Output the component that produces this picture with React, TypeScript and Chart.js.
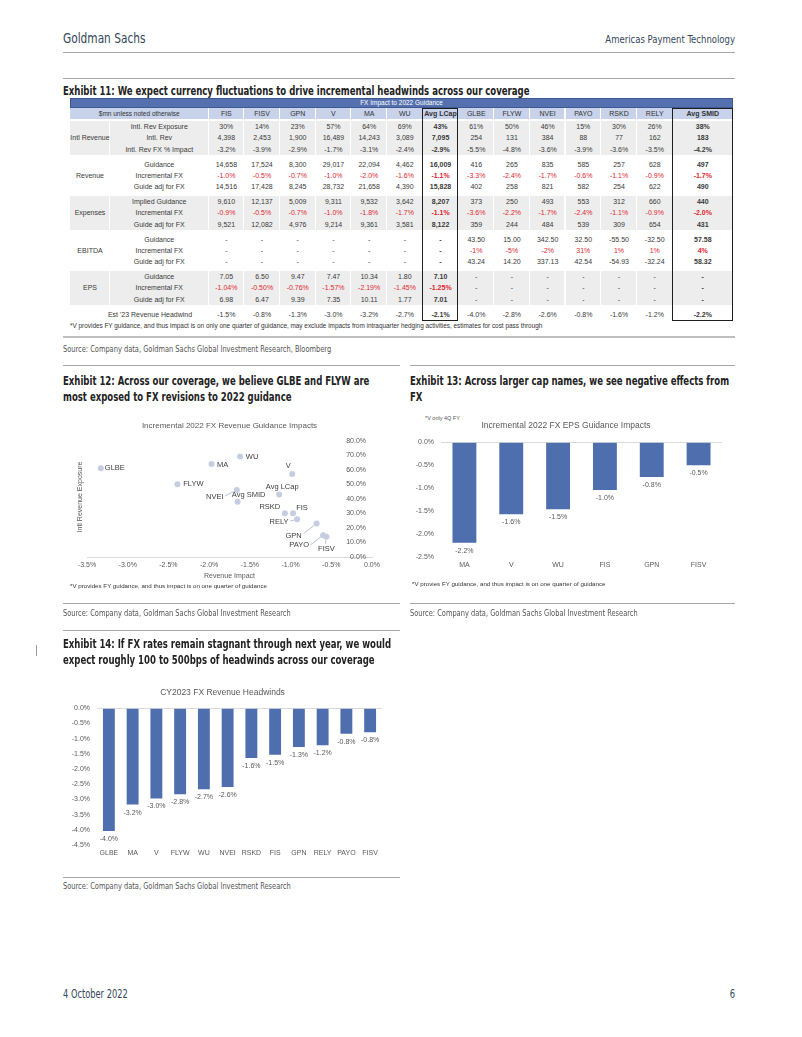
import React, { useEffect, useRef } from 'react';
import { Chart, registerables } from 'chart.js';

Chart.register(...registerables);

const NARROW = '"Liberation Sans Narrow", "DejaVu Sans Condensed", "Roboto Condensed", "Arial Narrow", sans-serif';
const ARIAL = '"Liberation Sans", Arial, Helvetica, sans-serif';

// ---------- Exhibit 11 table data ----------
const tableColumns = ['FIS', 'FISV', 'GPN', 'V', 'MA', 'WU', 'Avg LCap', 'GLBE', 'FLYW', 'NVEI', 'PAYO', 'RSKD', 'RELY', 'Avg SMID'];
const intlRevExposure = ['30%', '14%', '23%', '57%', '64%', '69%', '43%', '61%', '50%', '46%', '15%', '30%', '26%', '38%'];
const intlRev = ['4,398', '2,453', '1,900', '16,489', '14,243', '3,089', '7,095', '254', '131', '384', '88', '77', '162', '183'];
const intlRevFxImpact = ['-3.2%', '-3.9%', '-2.9%', '-1.7%', '-3.1%', '-2.4%', '-2.9%', '-5.5%', '-4.8%', '-3.6%', '-3.9%', '-3.6%', '-3.5%', '-4.2%'];
const revenueGuidance = ['14,658', '17,524', '8,300', '29,017', '22,094', '4,462', '16,009', '416', '265', '835', '585', '257', '628', '497'];
const revenueIncrFx = ['-1.0%', '-0.5%', '-0.7%', '-1.0%', '-2.0%', '-1.6%', '-1.1%', '-3.3%', '-2.4%', '-1.7%', '-0.6%', '-1.1%', '-0.9%', '-1.7%'];
const revenueAdj = ['14,516', '17,428', '8,245', '28,732', '21,658', '4,390', '15,828', '402', '258', '821', '582', '254', '622', '490'];
const expensesGuidance = ['9,610', '12,137', '5,009', '9,311', '9,532', '3,642', '8,207', '373', '250', '493', '553', '312', '660', '440'];
const expensesIncrFx = ['-0.9%', '-0.5%', '-0.7%', '-1.0%', '-1.8%', '-1.7%', '-1.1%', '-3.6%', '-2.2%', '-1.7%', '-2.4%', '-1.1%', '-0.9%', '-2.0%'];
const expensesAdj = ['9,521', '12,082', '4,976', '9,214', '9,361', '3,581', '8,122', '359', '244', '484', '539', '309', '654', '431'];
const ebitdaGuidance = ['-', '-', '-', '-', '-', '-', '-', '43.50', '15.00', '342.50', '32.50', '-55.50', '-32.50', '57.58'];
const ebitdaIncrFx = ['-', '-', '-', '-', '-', '-', '-', '-1%', '-5%', '-2%', '31%', '1%', '1%', '4%'];
const ebitdaAdj = ['-', '-', '-', '-', '-', '-', '-', '43.24', '14.20', '337.13', '42.54', '-54.93', '-32.24', '58.32'];
const epsGuidance = ['7.05', '6.50', '9.47', '7.47', '10.34', '1.80', '7.10', '-', '-', '-', '-', '-', '-', '-'];
const epsIncrFx = ['-1.04%', '-0.50%', '-0.76%', '-1.57%', '-2.19%', '-1.45%', '-1.25%', '-', '-', '-', '-', '-', '-', '-'];
const epsAdj = ['6.98', '6.47', '9.39', '7.35', '10.11', '1.77', '7.01', '-', '-', '-', '-', '-', '-', '-'];
const est23Headwind = ['-1.5%', '-0.8%', '-1.3%', '-3.0%', '-3.2%', '-2.7%', '-2.1%', '-4.0%', '-2.8%', '-2.6%', '-0.8%', '-1.6%', '-1.2%', '-2.2%'];

// ---------- Exhibit 12 scatter data ----------
const scatterNames = ['GLBE', 'MA', 'WU', 'V', 'FLYW', 'NVEI', 'Avg SMID', 'Avg LCap', 'RSKD', 'FIS', 'RELY', 'GPN', 'PAYO', 'FISV'];
const scatterRevenueImpact = [-3.33, -1.97, -1.62, -0.98, -2.39, -1.66, -1.65, -1.14, -1.07, -0.97, -0.92, -0.68, -0.60, -0.56];
const scatterIntlExposure = [61, 64, 69, 57, 50, 46, 38, 43, 30, 30, 26, 23, 15, 14];

// ---------- Exhibit 13 data ----------
const epsCompanies = ['MA', 'V', 'WU', 'FIS', 'GPN', 'FISV'];
const epsFxImpact = [-2.19, -1.57, -1.46, -1.04, -0.76, -0.50];

// ---------- Exhibit 14 data ----------
const headwindCompanies = ['GLBE', 'MA', 'V', 'FLYW', 'WU', 'NVEI', 'RSKD', 'FIS', 'GPN', 'RELY', 'PAYO', 'FISV'];
const headwindValues = [-4.04, -3.17, -2.97, -2.83, -2.67, -2.59, -1.64, -1.53, -1.28, -1.22, -0.84, -0.79];

// label placement (style only): offsets of label centre from the point, optional leader start
const scatterLabelStyle = [
  { dx: 14, dy: 0 }, { dx: 11, dy: 1 }, { dx: 12, dy: 0 }, { dx: -4, dy: -8 },
  { dx: 16, dy: 0 }, { dx: -22, dy: 7, leader: [-12, 6] }, { dx: 11, dy: -7 }, { dx: 3, dy: -7 },
  { dx: -15, dy: -6 }, { dx: 9, dy: -5 }, { dx: -18, dy: 3, leader: [-7, 2] },
  { dx: -23, dy: 12, leader: [-13, 10] }, { dx: -24, dy: 10, leader: [-13, 10] }, { dx: 0, dy: 12, leader: [-1, 7] },
];

const pct1 = (v: number) => (Math.round(v * 10) / 10).toFixed(1) + '%';

const barValueLabels = {
  id: 'barValueLabels',
  afterDatasetsDraw(chart: any, _args: any, opts: any) {
    const ctx = chart.ctx;
    const meta = chart.getDatasetMeta(0);
    const data = chart.data.datasets[0].data;
    ctx.save();
    ctx.font = `${opts.size}px ${ARIAL}`;
    ctx.fillStyle = opts.color;
    ctx.textAlign = 'center';
    ctx.textBaseline = 'middle';
    meta.data.forEach((bar: any, i: number) => {
      ctx.fillText(pct1(data[i]), bar.x, bar.y + opts.offset);
    });
    ctx.restore();
  },
};

const scatterLabels = {
  id: 'scatterLabels',
  afterDatasetsDraw(chart: any, _args: any, opts: any) {
    const ctx = chart.ctx;
    const meta = chart.getDatasetMeta(0);
    ctx.save();
    ctx.font = `${opts.size}px ${ARIAL}`;
    ctx.textAlign = 'center';
    ctx.textBaseline = 'middle';
    meta.data.forEach((pt: any, i: number) => {
      const s = scatterLabelStyle[i];
      if (s.leader) {
        const sx = pt.x + s.leader[0];
        const sy = pt.y + s.leader[1];
        const ddx = pt.x - sx;
        const ddy = pt.y - sy;
        const len = Math.sqrt(ddx * ddx + ddy * ddy) || 1;
        const ex = pt.x - (ddx / len) * 3;
        const ey = pt.y - (ddy / len) * 3;
        ctx.strokeStyle = opts.leaderColor;
        ctx.lineWidth = 1;
        ctx.beginPath();
        ctx.moveTo(sx, sy);
        ctx.lineTo(ex, ey);
        ctx.stroke();
      }
      ctx.fillStyle = opts.color;
      ctx.fillText(scatterNames[i], pt.x + s.dx, pt.y + s.dy);
    });
    ctx.restore();
  },
};

function useChart(make: () => any) {
  const ref = useRef<HTMLCanvasElement | null>(null);
  useEffect(() => {
    if (!ref.current) return;
    const chart = new Chart(ref.current, make());
    return () => chart.destroy();
  }, []);
  return ref;
}

const tickFont = { family: ARIAL, size: 7 };
const GREY = '#595959';
const BAR = '#4F6EAD';

function ScatterChart() {
  const ref = useChart(() => ({
    type: 'scatter',
    data: {
      datasets: [{
        data: scatterNames.map((_, i) => ({ x: scatterRevenueImpact[i], y: scatterIntlExposure[i] })),
        pointRadius: 3,
        pointBackgroundColor: '#C6CDE0',
        pointBorderWidth: 0,
      }],
    },
    plugins: [scatterLabels],
    options: {
      animation: false,
      responsive: false,
      devicePixelRatio: 1,
      layout: { padding: { left: 24, right: 28, top: 0, bottom: 4 } },
      plugins: {
        legend: { display: false },
        tooltip: { enabled: false },
        title: { display: true, text: 'Incremental 2022 FX Revenue Guidance Impacts', color: GREY, font: { family: ARIAL, size: 8, weight: 'normal' }, padding: { top: 6, bottom: 10 } },
        scatterLabels: { size: 7.5, color: '#404040', leaderColor: '#B7C0D8' },
      },
      scales: {
        x: {
          type: 'linear', min: -3.5, max: 0,
          ticks: { stepSize: 0.5, callback: (v: number) => pct1(v), color: GREY, font: tickFont, padding: 4, maxRotation: 0, autoSkip: false },
          grid: { display: false, drawTicks: false },
          border: { display: true, color: '#D9D9D9' },
          title: { display: true, text: 'Revenue Impact', color: GREY, font: tickFont, padding: { top: 0, bottom: 1 } },
          afterFit: (s: any) => { s.height = 24; },
        },
        y: {
          position: 'right', min: 0, max: 80,
          ticks: { stepSize: 10, mirror: true, padding: -6, callback: (v: number) => v.toFixed(1) + '%', color: GREY, font: tickFont },
          grid: { display: false, drawTicks: false },
          border: { display: false },
          afterFit: (s: any) => { s.width = 0; },
        },
      },
    },
  }));
  return <canvas ref={ref} width={337} height={170} style={{ position: 'absolute', left: 63, top: 415 }} />;
}

function barConfig(labels: string[], values: number[], title: string, min: number, yWidth: number, pad: any, titlePad: any, barPct: number) {
  return {
    type: 'bar',
    data: { labels, datasets: [{ data: values, backgroundColor: BAR, categoryPercentage: 1, barPercentage: barPct }] },
    plugins: [barValueLabels],
    options: {
      animation: false,
      responsive: false,
      devicePixelRatio: 1,
      layout: { padding: pad },
      plugins: {
        legend: { display: false },
        tooltip: { enabled: false },
        title: { display: true, text: title, color: GREY, font: { family: ARIAL, size: 8.5, weight: 'normal' }, padding: titlePad },
        barValueLabels: { size: 7, color: GREY, offset: 8 },
      },
      scales: {
        x: {
          ticks: { color: GREY, font: tickFont, padding: 4, maxRotation: 0, autoSkip: false },
          grid: { display: false, drawTicks: false },
          border: { display: false },
          afterFit: (s: any) => { s.height = 14; },
        },
        y: {
          min, max: 0,
          ticks: { stepSize: 0.5, callback: (v: number) => pct1(v), color: GREY, font: tickFont, padding: 7 },
          grid: { drawTicks: false, color: (c: any) => (c.tick && Math.abs(c.tick.value) < 1e-9 ? '#D9D9D9' : 'rgba(0,0,0,0)') },
          border: { display: false },
          afterFit: (s: any) => { s.width = yWidth; },
        },
      },
    },
  };
}

function EpsChart() {
  const ref = useChart(() => barConfig(epsCompanies, epsFxImpact, 'Incremental 2022 FX EPS Guidance Impacts', -2.5, 31,
    { left: 0, right: 13, top: 0, bottom: 5 }, { top: 11, bottom: 11 }, 0.51));
  return <canvas ref={ref} width={325} height={166} style={{ position: 'absolute', left: 410, top: 410 }} />;
}

function HeadwindChart() {
  const ref = useChart(() => barConfig(headwindCompanies, headwindValues, 'CY2023 FX Revenue Headwinds', -4.5, 34,
    { left: 0, right: 18, top: 0, bottom: 1 }, { top: 8, bottom: 10 }, 0.5));
  return <canvas ref={ref} width={337} height={180} style={{ position: 'absolute', left: 63, top: 680 }} />;
}

function T(props: { x: number; y: number; size: number; children: any; bold?: boolean; color?: string; font?: string; align?: 'left' | 'right' | 'center'; w?: number; sx?: number }) {
  const { x, y, size, children, bold, color, font, align = 'left', w = 700, sx = 1 } = props;
  const lh = size * 1.2;
  const left = align === 'left' ? x : align === 'right' ? x - w : x - w / 2;
  return (
    <div style={{
      position: 'absolute', left, top: y - lh / 2, width: w, height: lh, lineHeight: `${lh}px`,
      fontSize: size, fontFamily: font || NARROW, fontWeight: bold ? 700 : 400, color: color || '#222',
      textAlign: align, whiteSpace: 'nowrap',
      transform: sx !== 1 ? `scaleX(${sx})` : undefined, transformOrigin: align === 'right' ? 'right center' : align === 'center' ? 'center center' : 'left center',
    }}>{children}</div>
  );
}

function HLine({ x1, x2, y, color = '#A6A6A6', h = 1 }: { x1: number; x2: number; y: number; color?: string; h?: number }) {
  return <div style={{ position: 'absolute', left: x1, top: y, width: x2 - x1, height: h, background: color }} />;
}

const COL0 = 70, COL1 = 110, DATA0 = 208.5, DW = 35.7, TABLE_R = 733;
const colLeft = (i: number) => DATA0 + i * DW;
const colRight = (i: number) => (i === 13 ? TABLE_R : DATA0 + (i + 1) * DW);

function FxTable() {
  const groups = [
    { name: 'Intl Revenue', shade: true, rows: [
      { label: 'Intl. Rev Exposure', v: intlRevExposure }, { label: 'Intl. Rev', v: intlRev }, { label: 'Intl. Rev FX % Impact', v: intlRevFxImpact }] },
    { name: 'Revenue', shade: false, rows: [
      { label: 'Guidance', v: revenueGuidance }, { label: 'Incremental FX', v: revenueIncrFx, red: true }, { label: 'Guide adj for FX', v: revenueAdj }] },
    { name: 'Expenses', shade: true, rows: [
      { label: 'Implied Guidance', v: expensesGuidance }, { label: 'Incremental FX', v: expensesIncrFx, red: true }, { label: 'Guide adj for FX', v: expensesAdj }] },
    { name: 'EBITDA', shade: false, rows: [
      { label: 'Guidance', v: ebitdaGuidance }, { label: 'Incremental FX', v: ebitdaIncrFx, red: true }, { label: 'Guide adj for FX', v: ebitdaAdj }] },
    { name: 'EPS', shade: true, rows: [
      { label: 'Guidance', v: epsGuidance }, { label: 'Incremental FX', v: epsIncrFx, red: true }, { label: 'Guide adj for FX', v: epsAdj }] },
  ];
  const RH = 11.33;
  const groupTop = (g: number) => 121 + g * 37.5;
  const els: any[] = [];
  const cellText = (key: string, left: number, width: number, top: number, text: string, opts: any = {}) => (
    <div key={key} style={{
      position: 'absolute', left, top, width, height: RH, lineHeight: `${RH}px`, textAlign: 'center',
      fontFamily: ARIAL, fontSize: 7, color: opts.color || '#3A3A3A', fontWeight: opts.bold ? 700 : 400, whiteSpace: 'nowrap',
    }}>{text}</div>
  );
  els.push(<div key="h1" style={{ position: 'absolute', left: COL0, top: 98, width: TABLE_R - COL0, height: 10, background: '#5570AE', boxSizing: 'border-box', border: '1px solid #3F5793' }} />);
  els.push(<div key="h1t" style={{ position: 'absolute', left: COL0, top: 98, width: TABLE_R - COL0, height: 10, lineHeight: '10px', textAlign: 'center', color: '#fff', fontFamily: ARIAL, fontSize: 6.5 }}>FX Impact to 2022 Guidance</div>);
  els.push(<div key="h2a" style={{ position: 'absolute', left: COL0, top: 108, width: DATA0 - COL0 - 1, height: 11, background: '#C8D2EA' }} />);
  els.push(<div key="h2at" style={{ position: 'absolute', left: COL0, top: 108, width: DATA0 - COL0, height: 11, lineHeight: '11px', textAlign: 'center', fontFamily: ARIAL, fontSize: 6.5, color: '#333' }}>$mn unless noted otherwise</div>);
  tableColumns.forEach((c, i) => {
    const l = colLeft(i), r = colRight(i);
    els.push(<div key={'h2' + i} style={{ position: 'absolute', left: l, top: 108, width: r - l - 1, height: 11, background: '#C8D2EA' }} />);
    els.push(<div key={'h2t' + i} style={{ position: 'absolute', left: l, top: 108, width: r - l, height: 11, lineHeight: '11px', textAlign: 'center', fontFamily: ARIAL, fontSize: 7, color: '#333', fontWeight: c.startsWith('Avg') ? 700 : 400 }}>{c}</div>);
  });
  groups.forEach((g, gi) => {
    const top = groupTop(gi);
    if (g.shade) {
      els.push(<div key={'bg0' + gi} style={{ position: 'absolute', left: COL0, top, width: COL1 - COL0 - 1, height: RH * 3, background: '#EDEDED' }} />);
      els.push(<div key={'bg1' + gi} style={{ position: 'absolute', left: COL1, top, width: DATA0 - COL1 - 1, height: RH * 3, background: '#EDEDED' }} />);
      tableColumns.forEach((_, i) => {
        els.push(<div key={'bg' + gi + '_' + i} style={{ position: 'absolute', left: colLeft(i), top, width: colRight(i) - colLeft(i) - 1, height: RH * 3, background: '#EDEDED' }} />);
      });
    }
    els.push(cellText('gn' + gi, COL0, COL1 - COL0, top + RH, g.name));
    g.rows.forEach((r: any, ri: number) => {
      const y = top + ri * RH;
      els.push(cellText('rl' + gi + ri, COL1, DATA0 - COL1, y, r.label));
      r.v.forEach((val: string, ci: number) => {
        const bold = tableColumns[ci].startsWith('Avg');
        const color = r.red && val !== '-' ? '#E2262F' : '#3A3A3A';
        els.push(cellText('c' + gi + ri + '_' + ci, colLeft(ci), colRight(ci) - colLeft(ci), y, val, { bold, color }));
      });
    });
  });
  const lastTop = 308.5;
  els.push(cellText('estl', 95, 110, lastTop, "Est '23 Revenue Headwind"));
  est23Headwind.forEach((val, ci) => {
    els.push(cellText('est' + ci, colLeft(ci), colRight(ci) - colLeft(ci), lastTop, val, { bold: tableColumns[ci].startsWith('Avg') }));
  });
  [6, 13].forEach((ci) => {
    els.push(<div key={'box' + ci} style={{ position: 'absolute', left: colLeft(ci) - 1, top: 108, width: colRight(ci) - colLeft(ci) + 1, height: 213, boxSizing: 'border-box', border: '1.5px solid #1E1E1E' }} />);
  });
  return <>{els}</>;
}

const TSX = 0.73; // condensed heading width
const SSX = 0.87; // condensed body width

export default function App() {
  return (
    <div style={{ position: 'absolute', left: 0, top: 0, width: 802, height: 1037, background: '#fff', overflow: 'hidden' }}>
      <T x={63} y={38} size={14} color="#34465C" sx={0.84}>Goldman Sachs</T>
      <T x={735} y={40} size={11} color="#34465C" align="right" sx={0.86}>Americas Payment Technology</T>
      <HLine x1={63} x2={735} y={52} />
      <HLine x1={63} x2={735} y={78} />
      <T x={63} y={91} size={13} bold sx={TSX}>Exhibit 11: We expect currency fluctuations to drive incremental headwinds across our coverage</T>
      <FxTable />
      <T x={70} y={326} size={6.4} font={ARIAL} color="#333">*V provides FY guidance, and thus impact is on only one quarter of guidance, may exclude impacts from intraquarter hedging activities, estimates for cost pass through</T>
      <HLine x1={63} x2={735} y={336} color="#BFBFBF" h={2} />
      <T x={63} y={349} size={8.5} color="#555" sx={SSX}>Source: Company data, Goldman Sachs Global Investment Research, Bloomberg</T>

      <HLine x1={63} x2={400} y={365} />
      <HLine x1={410} x2={735} y={365} />
      <T x={63} y={381} size={13} bold sx={TSX}>Exhibit 12: Across our coverage, we believe GLBE and FLYW are</T>
      <T x={63} y={397} size={13} bold sx={TSX}>most exposed to FX revisions to 2022 guidance</T>
      <T x={410} y={381} size={13} bold sx={TSX}>Exhibit 13: Across larger cap names, we see negative effects from</T>
      <T x={410} y={397} size={13} bold sx={TSX}>FX</T>

      <ScatterChart />
      <div style={{ position: 'absolute', left: 80, top: 497, width: 0, height: 0 }}>
        <div style={{ position: 'absolute', left: -60, top: -5, width: 120, height: 10, lineHeight: '10px', textAlign: 'center', fontFamily: ARIAL, fontSize: 7, color: GREY, transform: 'rotate(-90deg)', whiteSpace: 'nowrap' }}>Intl Revenue Exposure</div>
      </div>
      <T x={70} y={586} size={6.2} font={ARIAL} color="#333">*V provides FY guidance, and thus impact is on one quarter of guidance</T>

      <T x={425} y={418} size={5.5} font={ARIAL} color="#555">*V only 4Q FY</T>
      <EpsChart />
      <T x={412} y={584} size={6.2} font={ARIAL} color="#333">*V provies FY guidance, and thus impact is on one quarter of guidance</T>

      <HLine x1={63} x2={400} y={603} />
      <HLine x1={410} x2={735} y={603} />
      <T x={63} y={613} size={8.5} color="#555" sx={SSX}>Source: Company data, Goldman Sachs Global Investment Research</T>
      <T x={410} y={613} size={8.5} color="#555" sx={SSX}>Source: Company data, Goldman Sachs Global Investment Research</T>

      <div style={{ position: 'absolute', left: 36, top: 645, width: 1, height: 11, background: '#999' }} />
      <HLine x1={63} x2={400} y={630} />
      <T x={63} y={644} size={13} bold sx={TSX}>Exhibit 14: If FX rates remain stagnant through next year, we would</T>
      <T x={63} y={660} size={13} bold sx={TSX}>expect roughly 100 to 500bps of headwinds across our coverage</T>
      <HeadwindChart />
      <HLine x1={63} x2={400} y={877} />
      <T x={63} y={886} size={8.5} color="#555" sx={SSX}>Source: Company data, Goldman Sachs Global Investment Research</T>

      <T x={63} y={995} size={11.5} color="#34465C" sx={0.8}>4 October 2022</T>
      <T x={735} y={995} size={11.5} color="#34465C" align="right" sx={0.8}>6</T>
    </div>
  );
}
